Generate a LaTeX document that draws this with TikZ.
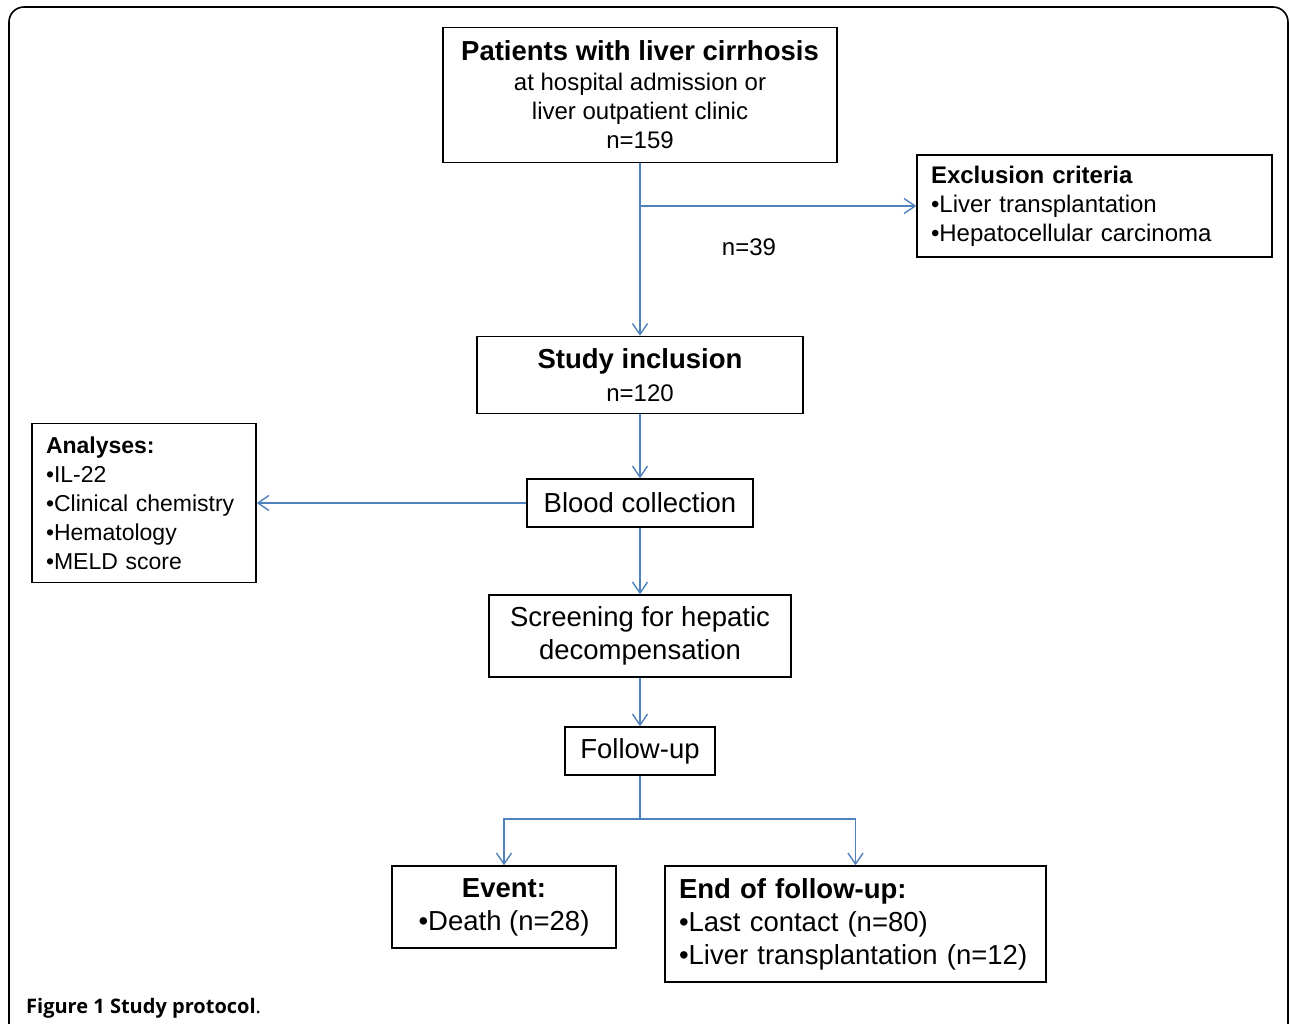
\documentclass[tikz,border=0pt]{standalone}
\usepackage{fontspec}
\setmainfont{Liberation Sans}
\newfontfamily\capfont{Open Sans}
\usetikzlibrary{arrows.meta}
\definecolor{flowblue}{RGB}{79,129,189}
\tikzset{
  box/.style={draw,line width=1.4pt,inner xsep=14pt,inner ysep=0pt,font=\fontsize{27.5}{33}\selectfont},
  smallbox/.style={box,font=\fontsize{24}{29}\selectfont},
  flow/.style={draw=flowblue,line width=1.4pt}
}
\begin{document}
\begin{tikzpicture}[x=1pt,y=-1pt,>={Straight Barb[length=11pt,width=15pt]}]
      \useasboundingbox (0,0) rectangle (1290,1023);
      \draw[line width=1.6pt,rounded corners=15pt] (9,7) rectangle (1288,1040);

      \node [smallbox,minimum width=394pt,minimum height=135pt,align=center] (pat) at (640,95) {{\fontsize{27.5}{30}\selectfont\bfseries Patients with liver cirrhosis}\\[1pt]at hospital admission or\\liver outpatient clinic\\n=159};
      \node [smallbox,text width=327pt,minimum height=102pt,align=left] (excl) at (1094.5,206) {\textbf{Exclusion criteria}\\•Liver transplantation\\•Hepatocellular carcinoma};
      \node [box,minimum width=326pt,minimum height=77pt,align=center] (incl) at (640,375) {\textbf{Study inclusion}\\{\fontsize{24}{29}\selectfont n=120}};
      \node [box,minimum width=226pt,minimum height=48pt] (blood) at (640,503) {Blood collection};
      \node [smallbox,text width=196pt,minimum height=159pt,align=left,font=\fontsize{23}{29}\selectfont] (anal) at (144,503) {\textbf{Analyses:}\\•IL-22\\•Clinical chemistry\\•Hematology\\•MELD score};
      \node [box,minimum width=302pt,minimum height=82pt,align=center] (screen) at (640,636) {Screening for hepatic\\decompensation};
      \node [box,minimum width=150pt,minimum height=48pt] (fu) at (640,751) {Follow-up};
      \node [box,minimum width=224pt,minimum height=82pt,align=center] (event) at (504,907) {\textbf{Event:}\\•Death (n=28)};
      \node [box,text width=353pt,minimum height=116pt,align=left] (eof) at (855.5,924) {\textbf{End of follow-up:}\\•Last contact (n=80)\\•Liver transplantation (n=12)};

      \node [font=\fontsize{24}{29}\selectfont] (n39) at (749,247) {n=39};
      \node [anchor=base west,inner sep=0pt,font=\capfont\fontsize{20}{24}\selectfont] (cap) at (26,1013) {\textbf{Figure 1 Study protocol}.};

      \coordinate (split) at (pat.south |- excl.west);
      \coordinate (fork) at (640,819);
      \draw[flow,->] (pat) -- (incl);
      \draw[flow,->] (split) -- (excl);
      \draw[flow,->] (incl) -- (blood);
      \draw[flow,->] (blood) -- (anal);
      \draw[flow,->] (blood) -- (screen);
      \draw[flow,->] (screen) -- (fu);
      \draw[flow] (fu) -- (fork);
      \draw[flow,->] (fork) -| (event);
      \draw[flow,->] (fork) -| (eof);
    \end{tikzpicture}
\end{document}
